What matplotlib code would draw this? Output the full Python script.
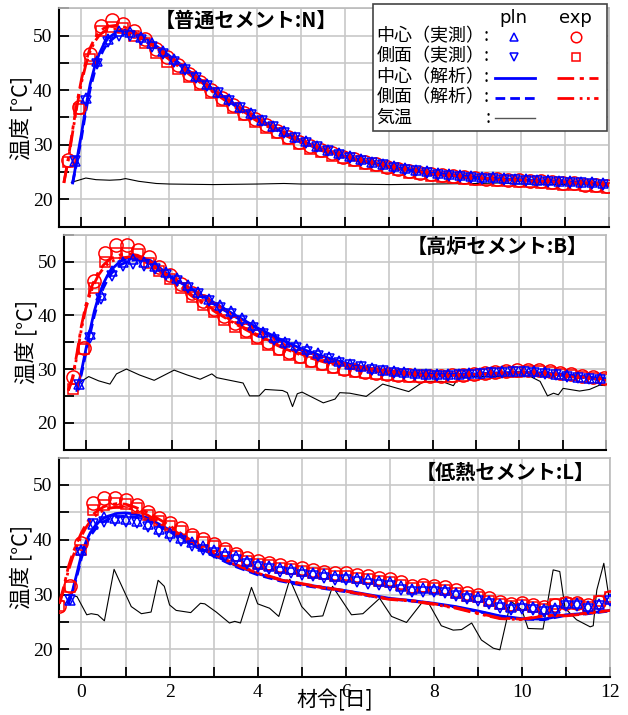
import numpy as np
import matplotlib
matplotlib.use('Agg')
import matplotlib.pyplot as plt
from matplotlib.patches import Rectangle
from matplotlib.ticker import MultipleLocator

nan = np.nan
JP = ['Noto Sans CJK JP', 'DejaVu Sans']
plt.rcParams['font.family'] = ['Liberation Serif', 'DejaVu Serif']

BLUE = '#0000ff'
RED = '#ff0000'

# ---- common time grids [day] ----
t_line = [-0.5, -0.4, -0.3, -0.2, -0.1, 0.0, 0.1, 0.2, 0.3, 0.4, 0.5, 0.6,
          0.8, 1.0, 1.2, 1.5, 2.0, 2.5, 3.0, 3.5, 4.0, 4.5, 5.0, 5.5, 6.0,
          6.5, 7.0, 7.5, 8.0, 8.5, 9.0, 9.5, 10.0, 10.5, 11.0, 11.5, 12.0]

# ---- 普通セメント N ----
N_exp_t = np.arange(-0.3, 12.0, 0.25)
N_pln_t = np.arange(-0.15, 12.0, 0.25)
N_exp_c = [27.2, 37.0, 46.6, 51.8, 52.8, 52.2, 50.9, 49.3, 47.6, 46.0,
           44.6, 43.0, 41.5, 40.0, 38.6, 37.2, 35.9, 34.7, 33.6, 32.5,
           31.5, 30.5, 29.7, 29.0, 28.4, 27.8, 27.3, 26.8, 26.4, 26.0,
           25.6, 25.2, 24.9, 24.6, 24.4, 24.2, 24.0, 23.9, 23.8, 23.7,
           23.6, 23.5, 23.4, 23.3, 23.1, 23.0, 22.9, 22.7, 22.6, 22.4]
N_exp_s = [26.8, 36.5, 45.8, 50.8, 51.6, 51.4, 49.9, 48.6, 46.8, 45.2,
           43.9, 42.4, 40.9, 39.4, 38.0, 36.7, 35.4, 34.2, 33.1, 32.1,
           31.1, 30.1, 29.3, 28.6, 28.0, 27.5, 27.0, 26.5, 26.1, 25.7,
           25.3, 24.9, 24.6, 24.3, 24.1, 23.9, 23.7, 23.6, 23.5, 23.4,
           23.3, 23.2, 23.1, 23.0, 22.8, 22.7, 22.6, 22.4, 22.3, 22.1]
N_pln_c = [27.0, 38.6, 45.4, 49.4, 50.8, 50.6, 49.8, 48.6, 47.2, 45.7,
           44.1, 42.6, 41.1, 39.7, 38.3, 37.0, 35.8, 34.6, 33.5, 32.5,
           31.5, 30.6, 29.8, 29.1, 28.5, 27.9, 27.4, 26.9, 26.5, 26.1,
           25.7, 25.4, 25.1, 24.8, 24.6, 24.4, 24.2, 24.1, 24.0, 23.9,
           23.8, 23.7, 23.6, 23.5, 23.4, 23.3, 23.2, 23.1, 23.0]
N_pln_s = [27.0, 38.0, 44.8, 48.8, 50.0, 50.0, 49.2, 48.0, 46.6, 45.2,
           43.7, 42.2, 40.8, 39.4, 38.0, 36.7, 35.5, 34.3, 33.2, 32.2,
           31.2, 30.3, 29.5, 28.8, 28.2, 27.6, 27.1, 26.6, 26.2, 25.8,
           25.4, 25.1, 24.8, 24.5, 24.3, 24.1, 23.9, 23.8, 23.7, 23.6,
           23.5, 23.4, 23.3, 23.2, 23.1, 23.0, 22.9, 22.8, 22.7]
N_pln_c_line = [nan, nan, nan, 23.0, 27.5, 32.0, 37.0, 41.2, 44.3, 46.6, 48.3, 49.5,
                50.7, 51.0, 50.6, 49.3, 46.3, 43.2, 40.1, 37.3, 34.8, 32.6, 30.7,
                29.1, 27.9, 26.9, 26.1, 25.4, 24.8, 24.4, 24.0, 23.8, 23.6, 23.4,
                23.2, 23.0, 22.8]
N_pln_s_line = [nan, nan, nan, 23.0, 27.0, 31.3, 36.2, 40.3, 43.4, 45.7, 47.4, 48.7,
                50.0, 50.4, 50.1, 48.9, 46.0, 43.0, 39.9, 37.1, 34.6, 32.4, 30.5,
                28.9, 27.7, 26.7, 25.9, 25.2, 24.6, 24.2, 23.8, 23.6, 23.4, 23.2,
                23.0, 22.8, 22.6]
N_exp_c_line = [nan, 23.0, 27.5, 32.8, 37.8, 42.0, 45.3, 47.8, 49.5, 50.6, 51.3, 51.7,
                51.9, 51.5, 50.7, 49.0, 45.9, 42.8, 39.8, 37.0, 34.5, 32.4, 30.5,
                29.0, 27.8, 26.8, 26.0, 25.3, 24.7, 24.3, 23.9, 23.7, 23.5, 23.3,
                23.1, 22.9, 22.7]
N_exp_s_line = [nan, 23.0, 27.2, 32.3, 37.2, 41.4, 44.7, 47.2, 48.9, 50.0, 50.7, 51.1,
                51.3, 51.0, 50.3, 48.7, 45.6, 42.6, 39.6, 36.8, 34.3, 32.2, 30.3,
                28.8, 27.6, 26.6, 25.8, 25.1, 24.5, 24.1, 23.7, 23.5, 23.3, 23.1,
                22.9, 22.7, 22.5]
N_air_t = [-0.23, 0.1, 0.33, 0.64, 0.88, 1.0, 1.3, 1.7, 2.0, 3.0, 4.0, 4.6, 5.0,
           6.0, 7.0, 8.0, 9.0, 9.5, 10.0, 11.0, 12.0]
N_air = [23.1, 23.9, 23.6, 23.5, 23.6, 23.8, 23.3, 22.9, 22.8, 22.7, 22.8, 22.9,
         22.8, 22.8, 22.7, 22.8, 22.9, 23.0, 22.8, 22.7, 22.6]

# ---- 高炉セメント B ----
B_exp_t = np.arange(-0.3, 12.0, 0.25)
B_pln_t = np.arange(-0.15, 12.0, 0.25)
B_exp_c = [28.6, 34.0, 46.5, 51.6, 53.1, 53.1, 52.2, 50.9, 49.1, 47.5,
           45.8, 44.2, 42.7, 41.2, 39.8, 38.5, 37.3, 36.1, 35.0, 34.0,
           33.1, 32.4, 31.7, 31.1, 30.6, 30.1, 29.8, 29.5, 29.2, 29.0,
           28.9, 28.8, 28.7, 28.7, 28.7, 28.8, 28.9, 29.1, 29.3, 29.5,
           29.7, 29.8, 29.9, 29.9, 29.7, 29.3, 29.0, 28.7, 28.5, 28.4]
B_exp_s = [26.2, 33.7, 45.2, 50.0, 51.6, 51.7, 51.4, 49.7, 48.3, 46.7,
           45.1, 43.5, 42.0, 40.6, 39.2, 37.9, 36.7, 35.6, 34.5, 33.5,
           32.7, 32.0, 31.3, 30.7, 30.2, 29.8, 29.5, 29.2, 29.0, 28.8,
           28.7, 28.6, 28.5, 28.5, 28.5, 28.6, 28.7, 28.9, 29.1, 29.3,
           29.4, 29.5, 29.6, 29.6, 29.4, 29.1, 28.8, 28.5, 28.3, 28.2]
B_pln_c = [27.2, 36.5, 43.8, 48.2, 50.0, 50.5, 50.0, 49.2, 48.1, 47.0,
           45.6, 44.3, 43.1, 42.0, 40.8, 39.6, 38.3, 37.0, 35.9, 35.1,
           34.4, 33.7, 33.0, 32.2, 31.5, 31.0, 30.6, 30.2, 29.9, 29.6,
           29.4, 29.2, 29.1, 29.0, 29.0, 29.1, 29.2, 29.3, 29.5, 29.6,
           29.7, 29.7, 29.6, 29.4, 29.1, 28.8, 28.6, 28.4, 28.3]
B_pln_s = [27.0, 35.8, 43.0, 47.4, 49.3, 49.6, 49.3, 48.6, 47.6, 46.5,
           45.2, 43.9, 42.6, 41.4, 40.2, 39.0, 37.7, 36.5, 35.4, 34.6,
           33.9, 33.2, 32.5, 31.8, 31.2, 30.7, 30.3, 29.9, 29.6, 29.3,
           29.1, 28.9, 28.8, 28.7, 28.7, 28.8, 28.9, 29.0, 29.2, 29.3,
           29.4, 29.4, 29.3, 29.1, 28.8, 28.5, 28.3, 28.1, 28.0]
B_pln_c_line = [nan, nan, nan, 26.0, 29.5, 33.5, 37.2, 40.8, 43.6, 45.8, 47.4, 48.6,
                50.1, 50.9, 51.0, 50.2, 47.0, 44.6, 42.2, 39.8, 37.5, 35.5, 33.7,
                32.3, 31.1, 30.2, 29.6, 29.2, 29.0, 29.0, 29.1, 29.3, 29.4, 29.3,
                29.0, 28.6, 28.2]
B_pln_s_line = [nan, nan, nan, 26.0, 29.0, 32.8, 36.5, 40.0, 42.8, 45.0, 46.6, 47.9,
                49.4, 50.2, 50.4, 49.7, 46.7, 44.3, 41.9, 39.5, 37.2, 35.2, 33.4,
                32.0, 30.8, 29.9, 29.3, 28.9, 28.8, 28.8, 28.9, 29.1, 29.2, 29.1,
                28.8, 28.4, 28.0]
B_exp_c_line = [nan, 26.0, 28.5, 33.0, 38.0, 41.8, 44.5, 46.6, 48.2, 49.3, 50.1, 50.7,
                51.3, 51.5, 51.2, 50.0, 46.6, 43.5, 40.8, 38.4, 36.2, 34.3, 32.7,
                31.5, 30.5, 29.8, 29.3, 29.0, 28.8, 28.8, 29.0, 29.2, 29.3, 29.2,
                28.9, 28.5, 28.1]
B_exp_s_line = [nan, 26.0, 28.2, 32.5, 37.4, 41.2, 43.9, 46.0, 47.6, 48.7, 49.5, 50.1,
                50.7, 50.9, 50.7, 49.6, 46.3, 43.3, 40.6, 38.2, 36.0, 34.1, 32.5,
                31.3, 30.3, 29.6, 29.1, 28.8, 28.6, 28.6, 28.8, 29.0, 29.1, 29.0,
                28.7, 28.3, 27.9]
B_air_t = [-0.16, 0.07, 0.3, 0.56, 0.71, 0.94, 1.24, 1.58, 2.04, 2.34,
           2.64, 2.91, 3.02, 3.63, 3.78, 4.0, 4.14, 4.54, 4.65, 4.77,
           4.88, 4.99, 5.48, 5.75, 5.86, 6.09, 6.47, 6.85, 7.45, 7.8,
           8.21, 8.48, 8.59, 8.89, 9.5, 10.26, 10.48, 10.65, 10.79, 10.9,
           11.01, 11.39, 11.62, 11.85, 12.0]
B_air = [27.4, 28.6, 27.8, 27.2, 29.1, 30.0, 28.9, 27.9, 29.8, 28.9,
         28.1, 29.1, 28.4, 27.4, 25.0, 25.0, 26.2, 26.0, 25.6, 23.0,
         25.4, 25.7, 23.7, 24.4, 25.6, 25.5, 24.9, 27.2, 25.8, 27.7,
         27.7, 26.9, 28.3, 28.6, 28.6, 28.6, 27.7, 25.0, 25.5, 25.2,
         26.4, 25.9, 26.2, 27.0, 26.9]

# ---- 低熱セメント L ----
L_exp_t = np.arange(-0.5, 12.01, 0.25)
L_pln_t = np.arange(-0.25, 12.01, 0.25)
L_exp_c = [27.9, 31.6, 39.4, 46.7, 47.7, 47.7, 47.3, 46.4, 45.0, 43.9,
           43.0, 42.1, 40.9, 40.1, 39.2, 38.3, 37.4, 36.6, 36.1, 35.8,
           35.4, 35.1, 34.8, 34.5, 34.2, 33.9, 33.9, 33.6, 33.3, 33.0,
           32.8, 32.2, 31.6, 31.8, 31.6, 31.3, 30.8, 30.3, 30.0, 29.3,
           28.7, 28.3, 28.5, 28.1, 27.8, 28.1, 28.5, 28.5, 28.1, 28.7, 29.5]
L_exp_s = [27.9, 31.4, 38.2, 45.4, 46.4, 46.8, 46.6, 45.8, 44.6, 43.5,
           42.5, 41.6, 40.5, 39.6, 38.8, 37.9, 37.0, 36.2, 35.6, 35.3,
           34.9, 34.6, 34.3, 34.0, 33.7, 33.4, 33.4, 33.1, 32.8, 32.5,
           32.3, 31.7, 31.2, 31.3, 31.1, 30.8, 30.3, 29.8, 29.5, 28.8,
           28.2, 27.9, 28.1, 27.7, 27.3, 28.3, 28.4, 28.3, 27.8, 28.9, 29.6]
L_pln_c = [29.0, 38.1, 42.8, 44.2, 44.0, 43.8, 43.4, 42.8, 42.0, 41.2,
           40.4, 39.6, 38.8, 38.2, 37.6, 37.0, 36.2, 35.6, 35.2, 34.8,
           34.6, 34.3, 34.0, 33.7, 33.4, 33.2, 33.0, 32.8, 32.5, 32.2,
           31.6, 31.0, 31.2, 31.0, 30.8, 30.3, 29.8, 29.5, 28.9, 28.2,
           27.8, 28.0, 27.7, 27.4, 27.5, 28.4, 28.4, 27.9, 28.3, 29.2]
L_pln_s = [29.0, 37.5, 42.8, 43.2, 43.4, 43.3, 43.0, 42.3, 41.5, 40.5,
           39.7, 38.9, 38.2, 37.6, 36.9, 36.3, 35.6, 35.0, 34.6, 34.2,
           33.9, 33.6, 33.3, 33.0, 32.7, 32.6, 32.3, 32.0, 31.7, 31.5,
           30.9, 30.4, 30.5, 30.4, 30.2, 29.7, 29.2, 28.9, 28.3, 27.6,
           27.2, 27.4, 27.1, 26.8, 27.0, 27.9, 27.9, 27.4, 27.9, 28.8]
L_pln_c_line = [nan, nan, 28.4, 30.8, 34.0, 37.3, 39.6, 41.3, 42.4, 43.3, 43.9, 44.3,
                44.8, 44.9, 44.7, 44.0, 41.8, 39.3, 37.2, 35.3, 33.8, 32.7, 31.9,
                31.3, 30.7, 30.0, 29.3, 28.9, 28.4, 27.8, 27.0, 26.1, 25.6, 25.5,
                26.3, 26.6, 27.1]
L_pln_s_line = [nan, nan, 28.4, 30.5, 33.5, 36.7, 39.0, 40.7, 41.8, 42.7, 43.3, 43.7,
                44.2, 44.3, 44.2, 43.6, 41.5, 39.1, 37.0, 35.1, 33.6, 32.5, 31.7,
                31.1, 30.5, 29.8, 29.2, 28.8, 28.3, 27.7, 26.9, 26.0, 25.5, 25.4,
                26.2, 26.5, 27.0]
L_exp_c_line = [28.5, 31.5, 35.0, 37.5, 39.5, 41.3, 42.8, 44.0, 44.9, 45.5, 46.0, 46.3,
                46.6, 46.5, 46.0, 45.0, 42.6, 39.8, 37.5, 35.5, 34.0, 32.8, 32.0,
                31.3, 30.7, 29.9, 29.2, 28.9, 28.3, 27.6, 26.6, 25.7, 25.5, 26.2,
                26.2, 26.6, 27.2]
L_exp_s_line = [28.3, 31.0, 34.3, 36.8, 38.9, 40.7, 42.2, 43.4, 44.3, 44.9, 45.4, 45.7,
                46.0, 45.9, 45.5, 44.5, 42.2, 39.6, 37.4, 35.4, 33.9, 32.7, 31.9,
                31.2, 30.6, 29.8, 29.1, 28.8, 28.2, 27.5, 26.5, 25.6, 25.4, 26.1,
                26.1, 26.5, 27.1]
L_air_t = [-0.27, -0.1, 0.12, 0.22, 0.37, 0.52, 0.74, 0.94, 1.13, 1.36,
           1.58, 1.74, 1.88, 2.0, 2.15, 2.48, 2.7, 2.8, 3.06, 3.36,
           3.48, 3.61, 3.86, 4.0, 4.27, 4.48, 4.73, 5.0, 5.22, 5.48,
           5.7, 6.13, 6.39, 6.77, 7.04, 7.38, 7.72, 7.87, 8.17, 8.44,
           8.63, 8.86, 9.08, 9.35, 9.5, 9.75, 10.0, 10.14, 10.48, 10.71,
           10.86, 10.98, 11.24, 11.55, 11.62, 11.7, 11.86, 11.98]
L_air = [30.0, 29.6, 26.3, 26.5, 26.3, 25.2, 34.6, 31.1, 27.8, 26.5,
         26.8, 32.6, 31.5, 28.1, 27.1, 26.7, 28.4, 28.3, 26.8, 24.8,
         25.1, 24.8, 31.3, 28.3, 27.5, 26.0, 32.8, 27.8, 25.9, 26.1,
         31.5, 26.3, 26.5, 29.3, 26.0, 24.9, 28.4, 28.6, 24.3, 23.5,
         23.6, 24.8, 21.7, 20.2, 19.9, 28.8, 27.2, 23.8, 23.7, 34.5,
         34.2, 27.5, 25.4, 24.1, 24.3, 30.8, 35.7, 29.3]

titles = ['【普通セメント:N】', '【高炉セメント:B】', '【低熱セメント:L】']

# line styles
ST = {
    'pln_c': dict(color=BLUE, ls='-'),
    'pln_s': dict(color=BLUE, ls=(0, (3.5, 1.8))),
    'exp_c': dict(color=RED, ls=(0, (6, 2, 1.5, 2))),
    'exp_s': dict(color=RED, ls=(0, (6, 2, 1, 1.6, 1, 1.6))),
}
MK = {
    'pln_c': dict(marker='^', ms=7, color=BLUE),
    'pln_s': dict(marker='v', ms=7, color=BLUE),
    'exp_c': dict(marker='o', ms=9.5, color=RED),
    'exp_s': dict(marker='s', ms=7.5, color=RED),
}


def draw_panel(ax, title, tx, ty, pln_t, pln_c, pln_s, exp_t, exp_c, exp_s,
               lines, air_t, air):
    ax.set_xlim(-0.5, 12)
    ax.set_ylim(15, 55)
    ax.xaxis.set_major_locator(MultipleLocator(2))
    ax.xaxis.set_minor_locator(MultipleLocator(1))
    ax.yaxis.set_major_locator(MultipleLocator(10))
    ax.yaxis.set_minor_locator(MultipleLocator(5))
    ax.grid(which='both', color='#c8c8c8', lw=1.2)
    ax.set_axisbelow(True)
    ax.tick_params(which='both', direction='in', length=7, width=1.3,
                   labelsize=14, pad=5)
    for s in ['left', 'bottom']:
        ax.spines[s].set_linewidth(1.5)
    for s in ['top', 'right']:
        ax.spines[s].set_color('#bbbbbb')
        ax.spines[s].set_linewidth(1.2)

    ax.plot(air_t, air, color='black', lw=0.8, zorder=2)
    for key, y in lines.items():
        ax.plot(t_line, y, lw=2.0, zorder=3, **ST[key])
    for t, y, key in [(exp_t, exp_c, 'exp_c'), (exp_t, exp_s, 'exp_s'),
                      (pln_t, pln_c, 'pln_c'), (pln_t, pln_s, 'pln_s')]:
        m = MK[key]
        ax.plot(t, y, ls='none', marker=m['marker'], ms=m['ms'], mfc='none',
                mec=m['color'], mew=1.1, zorder=4)

    ax.text(tx, ty, title, transform=ax.transAxes, ha='right', va='center',
            fontsize=14.5, fontweight='bold', family=JP, zorder=6)
    ax.set_ylabel('温度 [°C]', family=JP, fontsize=15.5)
    ax.yaxis.set_label_coords(-0.05, 0.5)


fig = plt.figure(figsize=(6.28, 7.15), dpi=100)
ax1 = fig.add_axes([0.0947, 0.6831, 0.8758, 0.3052])
ax2 = fig.add_axes([0.1019, 0.3713, 0.8631, 0.3001])
ax3 = fig.add_axes([0.0947, 0.0536, 0.8766, 0.3064])

draw_panel(ax1, titles[0], 0.504, 0.947, N_pln_t, N_pln_c, N_pln_s,
           N_exp_t, N_exp_c, N_exp_s,
           {'pln_c': N_pln_c_line, 'pln_s': N_pln_s_line,
            'exp_c': N_exp_c_line, 'exp_s': N_exp_s_line}, N_air_t, N_air)
draw_panel(ax2, titles[1], 0.967, 0.945, B_pln_t, B_pln_c, B_pln_s,
           B_exp_t, B_exp_c, B_exp_s,
           {'pln_c': B_pln_c_line, 'pln_s': B_pln_s_line,
            'exp_c': B_exp_c_line, 'exp_s': B_exp_s_line}, B_air_t, B_air)
draw_panel(ax3, titles[2], 0.973, 0.930, L_pln_t, L_pln_c, L_pln_s,
           L_exp_t, L_exp_c, L_exp_s,
           {'pln_c': L_pln_c_line, 'pln_s': L_pln_s_line,
            'exp_c': L_exp_c_line, 'exp_s': L_exp_s_line}, L_air_t, L_air)

ax1.tick_params(labelbottom=False)
ax2.tick_params(labelbottom=False)
ax3.set_xlabel('材令[日]', family=JP, fontsize=15, labelpad=-8)

# ---- legend (drawn by hand in panel 1) ----
tr = ax1.transAxes
ax1.add_patch(Rectangle((0.5695, 0.4395), 0.4254, 0.5805, transform=tr,
                        fc='white', ec='#444444', lw=1.2, clip_on=False, zorder=10))
ax1.text(0.8245, 0.956, 'pln', transform=tr, ha='center', va='center',
         fontsize=13, family='DejaVu Sans', zorder=11)
ax1.text(0.939, 0.956, 'exp', transform=tr, ha='center', va='center',
         fontsize=13, family='DejaVu Sans', zorder=11)
rows = ['中心（実測）:', '側面（実測）:', '中心（解析）:', '側面（解析）:']
row_y = [0.870, 0.779, 0.683, 0.591, 0.499]
for lab, yy in zip(rows, row_y):
    ax1.text(0.576, yy, lab, transform=tr, ha='left', va='center',
             fontsize=13, family=JP, zorder=11)
ax1.text(0.576, row_y[4], '気温', transform=tr, ha='left', va='center',
         fontsize=13, family=JP, zorder=11)
ax1.text(0.779, row_y[4], ':', transform=tr, ha='center', va='center',
         fontsize=13, family=JP, zorder=11)
for key, yy, x0 in [('pln_c', row_y[0], 0.8264), ('exp_c', row_y[0], 0.939),
                    ('pln_s', row_y[1], 0.8264), ('exp_s', row_y[1], 0.939)]:
    m = MK[key]
    ax1.plot([x0], [yy], transform=tr, ls='none', marker=m['marker'],
             ms=m['ms'] * 0.8, mfc='none', mec=m['color'], mew=1.1,
             clip_on=False, zorder=11)
for key, yy, x0, x1 in [('pln_c', row_y[2], 0.792, 0.8645),
                        ('exp_c', row_y[2], 0.9045, 0.979),
                        ('pln_s', row_y[3], 0.792, 0.8645),
                        ('exp_s', row_y[3], 0.9045, 0.979)]:
    ax1.plot([x0, x1], [yy, yy], transform=tr, lw=2.0, clip_on=False,
             zorder=11, **ST[key])
ax1.plot([0.792, 0.8645], [row_y[4], row_y[4]], transform=tr, color='#555555',
         lw=1.0, clip_on=False, zorder=11)

fig.savefig('out.png', dpi=100)
